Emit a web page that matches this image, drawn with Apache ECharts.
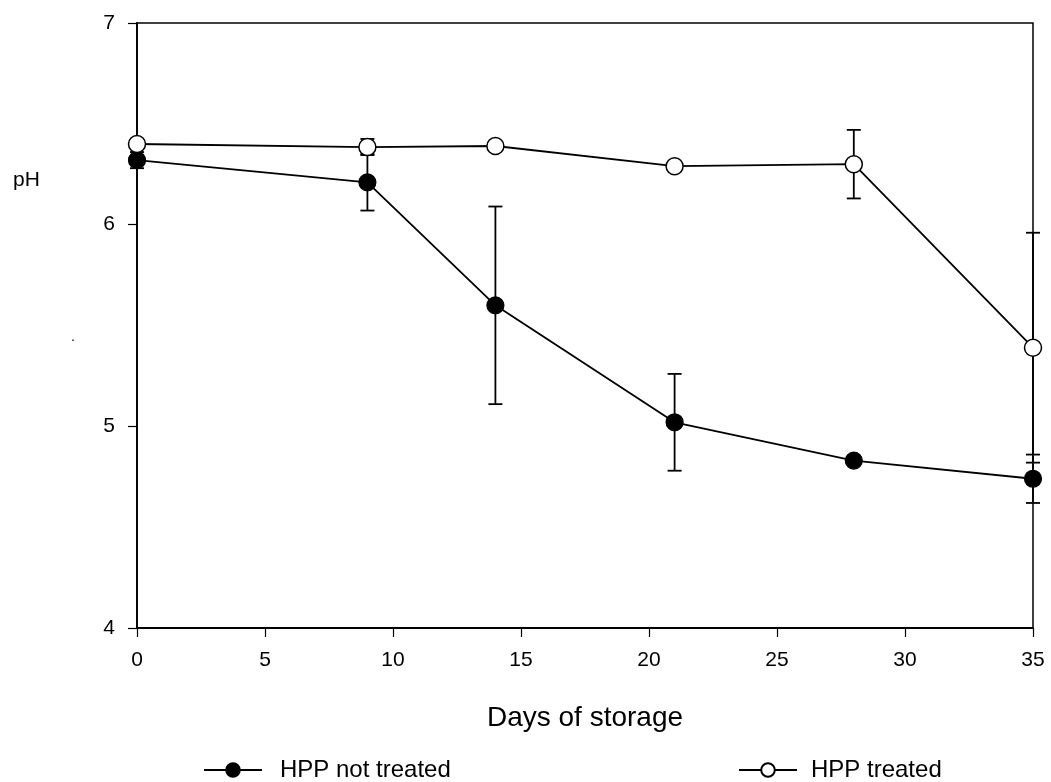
<!DOCTYPE html>
<html>
<head>
<meta charset="utf-8">
<script src="https://cdn.jsdelivr.net/npm/echarts@6/dist/echarts.min.js"></script>
<style>html,body{margin:0;padding:0;background:#fff}#c{width:1051px;height:782px}</style>
</head>
<body>
<div id="c"></div>
<script>
const days = [0, 9, 14, 21, 28, 35];
const notTreated = [6.32, 6.21, 5.60, 5.02, 4.83, 4.74];
const notTreatedErr = [0.04, 0.14, 0.49, 0.24, 0.01, 0.12];
const treated = [6.40, 6.385, 6.39, 6.29, 6.30, 5.39];
const treatedErr = [0.01, 0.04, 0.01, 0.01, 0.17, 0.57];
const yTicks = [4, 5, 6, 7];
const xTicks = [0, 5, 10, 15, 20, 25, 30, 35];

function errData(vals, errs) {
  return days.map((d, i) => [d, vals[i] - errs[i], vals[i] + errs[i]]);
}
function errRender(params, api) {
  const x = api.value(0);
  const lo = api.coord([x, api.value(1)]);
  const hi = api.coord([x, api.value(2)]);
  const hw = 7;
  const st = {stroke: '#000', lineWidth: 1.8};
  return {
    type: 'group',
    children: [
      {type: 'line', shape: {x1: lo[0], y1: lo[1], x2: hi[0], y2: hi[1]}, style: st},
      {type: 'line', shape: {x1: lo[0] - hw, y1: lo[1], x2: lo[0] + hw, y2: lo[1]}, style: st},
      {type: 'line', shape: {x1: hi[0] - hw, y1: hi[1], x2: hi[0] + hw, y2: hi[1]}, style: st}
    ]
  };
}
const font = 'Liberation Sans, Arial, sans-serif';
const chart = echarts.init(document.getElementById('c'));
chart.setOption({
  animation: false,
  backgroundColor: '#fff',
  grid: {left: 137, right: 18, top: 23, bottom: 154, show: true, borderColor: '#000', borderWidth: 1.5, backgroundColor: 'transparent'},
  xAxis: {
    type: 'value', min: 0, max: 35, interval: 5,
    name: 'Days of storage', nameLocation: 'middle', nameGap: 76,
    nameTextStyle: {fontFamily: font, fontSize: 28, color: '#000'},
    axisLine: {show: true, lineStyle: {color: '#000', width: 1.8}},
    axisTick: {show: true, length: 9, lineStyle: {color: '#000', width: 1.2}},
    axisLabel: {fontFamily: font, fontSize: 21, color: '#000', margin: 22, formatter: v => xTicks.includes(v) ? String(v) : ''},
    splitLine: {show: false}
  },
  yAxis: {
    type: 'value', min: 4, max: 7, interval: 1,
    axisLine: {show: true, lineStyle: {color: '#000', width: 1.8}},
    axisTick: {show: true, length: 9, lineStyle: {color: '#000', width: 1.2}},
    axisLabel: {fontFamily: font, fontSize: 21, color: '#000', margin: 22, formatter: v => yTicks.includes(v) ? String(v) : ''},
    splitLine: {show: false}
  },
  legend: [
    {data: ['HPP not treated'], left: 198, top: 753, itemWidth: 58, itemHeight: 17, itemGap: 10,
     textStyle: {fontFamily: font, fontSize: 24, color: '#000', padding: [0, 0, 0, 13]}},
    {data: ['HPP treated'], left: 733, top: 753, itemWidth: 58, itemHeight: 17, itemGap: 10,
     textStyle: {fontFamily: font, fontSize: 24, color: '#000', padding: [0, 0, 0, 9]}}
  ],
  graphic: [
    {type: 'text', left: 13, top: 170, style: {text: 'pH', fontFamily: font, fontSize: 21, fill: '#000'}},
    {type: 'text', left: 71, top: 330, style: {text: '.', fontFamily: font, fontSize: 14, fill: '#000'}}
  ],
  series: [
    {type: 'custom', name: 'errNT', renderItem: errRender, data: errData(notTreated, notTreatedErr), encode: {x: 0, y: [1, 2]}, z: 1, silent: true},
    {type: 'custom', name: 'errT', renderItem: errRender, data: errData(treated, treatedErr), encode: {x: 0, y: [1, 2]}, z: 1, silent: true},
    {type: 'line', name: 'HPP not treated', data: days.map((d, i) => [d, notTreated[i]]),
     symbol: 'circle', symbolSize: 17, lineStyle: {color: '#000', width: 1.8},
     itemStyle: {color: '#000', borderColor: '#000', borderWidth: 1.2}, z: 3},
    {type: 'line', name: 'HPP treated', data: days.map((d, i) => [d, treated[i]]),
     symbol: 'circle', symbolSize: 17, lineStyle: {color: '#000', width: 1.8},
     itemStyle: {color: '#fff', borderColor: '#000', borderWidth: 1.5}, z: 4}
  ]
});
</script>
</body>
</html>
